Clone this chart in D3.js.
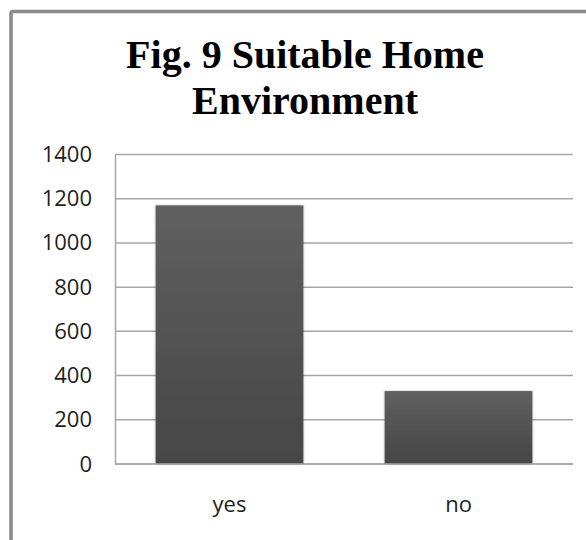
<!DOCTYPE html>
<html>
<head>
<meta charset="utf-8">
<script src="https://cdn.jsdelivr.net/npm/d3@7"></script>
<style>
  html, body { margin: 0; padding: 0; background: #fff; }
  svg { display: block; }
</style>
</head>
<body>
<script>
// Responses: is the home environment suitable?
const categories = ["yes", "no"];
const values = [1170, 330];
const yTicks = [0, 200, 400, 600, 800, 1000, 1200, 1400];
const titleLines = ["Fig. 9 Suitable Home", "Environment"];

const W = 586, H = 540;
const plot = { left: 115, right: 573, top: 154.5, bottom: 464 };

const svg = d3.select("body").append("svg")
  .attr("width", W).attr("height", H);

const defs = svg.append("defs");
const grad = defs.append("linearGradient")
  .attr("id", "barFill").attr("x1", 0).attr("y1", 0).attr("x2", 0).attr("y2", 1);
grad.append("stop").attr("offset", "0%").attr("stop-color", "#606060");
grad.append("stop").attr("offset", "100%").attr("stop-color", "#464646");

const shadow = defs.append("filter").attr("id", "barShadow")
  .attr("x", "-10%").attr("y", "-10%").attr("width", "120%").attr("height", "120%");
shadow.append("feDropShadow")
  .attr("dx", 0).attr("dy", 0).attr("stdDeviation", 1.6)
  .attr("flood-color", "#000").attr("flood-opacity", 0.25);

// Chart frame (runs off the right and bottom edges)
svg.append("rect")
  .attr("x", 11).attr("y", 11.5)
  .attr("width", 640).attr("height", 600)
  .attr("rx", 2)
  .attr("fill", "#fff")
  .attr("stroke", "#8a8a8a").attr("stroke-width", 3.5);

// Title
svg.append("text")
  .attr("x", 305).attr("y", 68)
  .attr("text-anchor", "middle")
  .attr("font-family", "'Liberation Serif', 'Times New Roman', serif")
  .attr("font-weight", "bold")
  .attr("font-size", 40)
  .attr("fill", "#000")
  .selectAll("tspan")
  .data(titleLines)
  .join("tspan")
  .attr("x", 305)
  .attr("dy", (d, i) => i === 0 ? 0 : 45.5)
  .text(d => d);

const x = d3.scaleBand()
  .domain(categories)
  .range([plot.left, plot.right])
  .paddingInner(0.3548)
  .paddingOuter(0.1774);

const y = d3.scaleLinear()
  .domain([0, 1400])
  .range([plot.bottom, plot.top]);

// Gridlines
svg.append("g")
  .selectAll("line")
  .data(yTicks)
  .join("line")
  .attr("x1", plot.left).attr("x2", plot.right)
  .attr("y1", d => y(d)).attr("y2", d => y(d))
  .attr("stroke", "#a6a6a6").attr("stroke-width", 1.5);

// Value axis
const yAxis = svg.append("g")
  .attr("transform", `translate(${plot.left},0)`)
  .call(d3.axisLeft(y).tickValues(yTicks).tickSize(0).tickPadding(23).tickFormat(d3.format("d")));
yAxis.select(".domain").attr("stroke", "#a6a6a6").attr("stroke-width", 1.5);
yAxis.selectAll("text")
  .attr("font-family", "'Open Sans', sans-serif")
  .attr("font-size", 22)
  .attr("fill", "#1e1e1e");

// Bars
svg.append("g")
  .selectAll("rect")
  .data(values)
  .join("rect")
  .attr("x", (d, i) => x(categories[i]))
  .attr("width", x.bandwidth())
  .attr("y", d => y(d))
  .attr("height", d => y(0) - y(d))
  .attr("fill", "url(#barFill)")
  .attr("filter", "url(#barShadow)");

// Category axis line
svg.append("line")
  .attr("x1", plot.left).attr("x2", plot.right)
  .attr("y1", y(0)).attr("y2", y(0))
  .attr("stroke", "#a6a6a6").attr("stroke-width", 1.5);

// Category labels
const xAxis = svg.append("g")
  .attr("transform", `translate(0,${plot.bottom})`)
  .call(d3.axisBottom(x).tickSize(0).tickPadding(32));
xAxis.select(".domain").remove();
xAxis.selectAll("text")
  .attr("font-family", "'Open Sans', sans-serif")
  .attr("font-size", 22)
  .attr("fill", "#1e1e1e");
</script>
</body>
</html>
